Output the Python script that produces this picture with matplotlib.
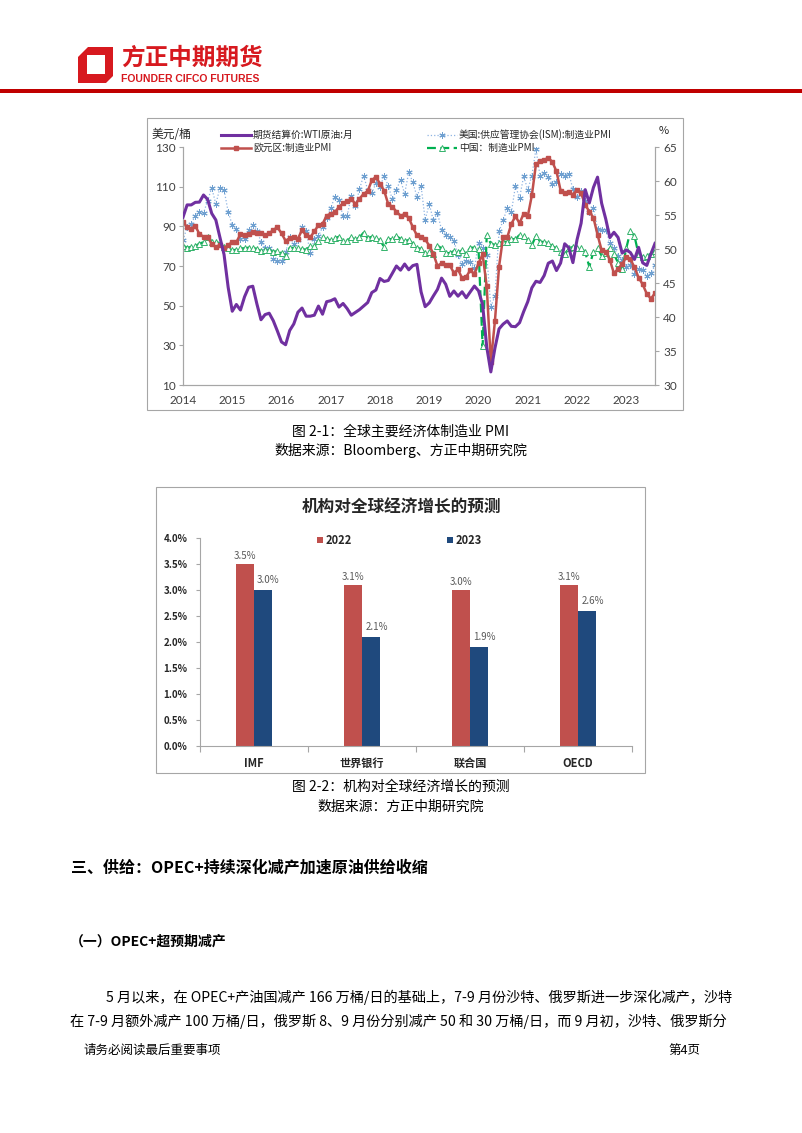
import numpy as np
import matplotlib
matplotlib.use("Agg")
import matplotlib.pyplot as plt
from matplotlib.patches import Rectangle, Polygon
from matplotlib.lines import Line2D

plt.rcParams["font.family"] = ["Noto Sans CJK SC", "DejaVu Sans"]

# ---- figure 2-1: monthly, 2014-01 .. 2023-08 ----
wti = [94.6, 100.8, 100.8, 102.1, 102.2, 105.8, 103.6, 96.5, 93.2, 84.4, 75.8, 59.3,
       47.2, 50.6, 47.8, 54.5, 59.3, 59.8, 50.9, 42.9, 45.5, 46.2, 42.4, 37.2,
       31.7, 30.3, 37.5, 40.8, 46.7, 48.8, 44.7, 44.7, 45.2, 49.8, 45.7, 52.0,
       52.5, 53.5, 49.3, 51.1, 48.5, 45.2, 46.6, 48.0, 49.8, 51.6, 56.6, 57.9,
       63.7, 62.2, 62.7, 66.3, 70.0, 67.9, 71.0, 68.1, 70.2, 70.8, 57.0, 49.5,
       51.4, 54.9, 58.2, 63.9, 60.8, 54.7, 57.4, 54.8, 57.0, 54.0, 57.0, 59.9,
       57.5, 50.5, 29.2, 16.6, 28.6, 38.3, 40.7, 42.3, 39.6, 39.4, 41.4, 47.0,
       52.0, 59.0, 62.3, 61.7, 65.2, 71.4, 72.5, 67.7, 71.5, 81.2, 79.2, 71.7,
       83.2, 91.6, 108.5, 101.8, 109.6, 114.8, 101.6, 93.7, 84.3, 87.0, 84.4, 76.5,
       78.1, 76.8, 73.3, 79.4, 71.6, 70.3, 76.1, 81.4]
ism = [51.3, 53.2, 53.7, 54.9, 55.4, 55.3, 57.1, 59.0, 56.6, 59.0, 58.7, 55.5,
       53.5, 52.9, 51.5, 51.5, 52.8, 53.5, 52.7, 51.1, 50.2, 50.1, 48.6, 48.2,
       48.2, 49.5, 51.8, 50.8, 51.3, 53.2, 52.6, 49.4, 51.5, 51.9, 53.2, 54.5,
       56.0, 57.7, 57.2, 54.8, 54.9, 57.8, 56.3, 58.8, 60.8, 58.7, 58.2, 59.7,
       59.1, 60.8, 59.3, 57.3, 58.7, 60.2, 58.1, 61.3, 59.8, 57.7, 59.3, 54.3,
       56.6, 54.2, 55.3, 52.8, 52.1, 51.7, 51.2, 49.1, 47.8, 48.3, 48.1, 47.2,
       50.9, 50.1, 49.1, 41.5, 43.1, 52.6, 54.2, 56.0, 55.4, 59.3, 57.5, 60.7,
       58.7, 60.8, 64.7, 60.7, 61.2, 60.6, 59.5, 59.9, 61.1, 60.8, 61.1, 58.8,
       57.6, 58.6, 57.1, 55.4, 56.1, 53.0, 52.8, 52.8, 50.9, 50.2, 49.0, 48.4,
       47.4, 47.7, 46.3, 47.1, 46.9, 46.0, 46.4, 47.6]
euro = [54.0, 53.2, 53.0, 53.4, 52.2, 51.8, 51.8, 50.7, 50.3, 50.6, 50.1, 50.6,
        51.0, 51.0, 52.2, 52.0, 52.2, 52.5, 52.4, 52.3, 52.0, 52.3, 52.8, 53.2,
        52.3, 51.2, 51.6, 51.7, 51.5, 52.8, 52.0, 51.7, 52.6, 53.5, 53.7, 54.9,
        55.2, 55.4, 56.2, 56.7, 57.0, 57.4, 56.6, 57.4, 58.1, 58.5, 60.1, 60.6,
        59.6, 58.6, 56.6, 56.2, 55.5, 54.9, 55.1, 54.6, 53.2, 52.0, 51.8, 51.4,
        50.5, 49.3, 47.5, 47.9, 47.7, 47.6, 46.5, 47.0, 45.7, 45.9, 46.9, 46.3,
        47.9, 49.2, 44.5, 33.4, 39.4, 47.4, 51.8, 51.7, 53.7, 54.8, 53.8, 55.2,
        54.8, 57.9, 62.5, 62.9, 63.1, 63.4, 62.8, 61.4, 58.6, 58.3, 58.4, 58.0,
        58.7, 58.2, 56.5, 55.5, 54.6, 52.1, 49.8, 49.6, 48.4, 46.4, 47.1, 47.8,
        48.8, 48.5, 47.3, 45.8, 44.8, 43.4, 42.7, 43.5]
china = [50.5, 50.2, 50.3, 50.4, 50.8, 51.0, 51.7, 51.1, 51.1, 50.8, 50.3, 50.1,
         49.8, 49.9, 50.1, 50.1, 50.2, 50.2, 50.0, 49.7, 49.8, 49.8, 49.6, 49.7,
         49.4, 49.0, 50.2, 50.1, 50.1, 50.0, 49.9, 50.4, 50.4, 51.2, 51.7, 51.4,
         51.3, 51.6, 51.8, 51.2, 51.2, 51.7, 51.4, 51.7, 52.4, 51.6, 51.8, 51.6,
         51.3, 50.3, 51.5, 51.4, 51.9, 51.5, 51.2, 51.3, 50.8, 50.2, 50.0, 49.4,
         49.5, 49.2, 50.5, 50.1, 49.4, 49.4, 49.7, 49.5, 49.8, 49.3, 50.2, 50.2,
         50.0, 35.7, 52.0, 50.8, 50.6, 50.9, 51.1, 51.0, 51.5, 51.4, 52.1, 51.9,
         51.3, 50.6, 51.9, 51.1, 51.0, 50.9, 50.4, 50.1, 49.6, 49.2, 50.1, 50.3,
         50.1, 50.2, 49.5, 47.4, 49.6, 50.2, 49.0, 49.4, 50.1, 49.2, 48.0, 47.0,
         50.1, 52.6, 51.9, 49.2, 48.8, 49.0, 49.3, 49.7]
years = list(range(2014, 2024))

# ---- figure 2-2 ----
orgs = ["IMF", "世界银行", "联合国", "OECD"]
g2022 = [3.5, 3.1, 3.0, 3.1]
g2023 = [3.0, 2.1, 1.9, 2.6]

W, H = 802, 1133
RED = "#C00000"
GRID = "#A6A6A6"


def fx(x):
    return x / W


def fy(y):
    return 1 - y / H


fig = plt.figure(figsize=(W / 100, H / 100), dpi=100)


def ptext(x, y, s, **kw):
    fig.text(fx(x), fy(y), s, **kw)


def box(x0, y0, x1, y1, **kw):
    fig.add_artist(Rectangle((fx(x0), fy(y1)), (x1 - x0) / W, (y1 - y0) / H,
                             transform=fig.transFigure, **kw))


# header
outer = [(88, 47), (113, 47), (113, 76), (106, 83), (78, 83), (78, 57)]
inner = [(87, 55), (105, 55), (105, 74), (87, 74)]
fig.add_artist(Polygon([(fx(a), fy(b)) for a, b in outer], closed=True,
                       transform=fig.transFigure, fc="#D7191F", ec="none"))
fig.add_artist(Polygon([(fx(a), fy(b)) for a, b in inner], closed=True,
                       transform=fig.transFigure, fc="white", ec="none"))
ptext(121, 58, "方正中期期货", fontsize=17, fontweight="bold", color="#D7191F",
      va="center", ha="left")
ptext(121, 79, "FOUNDER CIFCO FUTURES", fontsize=7.5, fontweight="bold",
      color="#D7191F", va="center", ha="left", family=["Liberation Sans"])
box(0, 89, 802, 93, fc=RED, ec="none")

# ---- chart 1 ----
box(147, 118, 683, 410, fill=False, ec=GRID, lw=0.8)
x = 2014 + np.arange(len(wti)) / 12
ax = fig.add_axes([fx(183), fy(385), (655 - 183) / W, (385 - 147) / H])
axr = ax.twinx()
ax.set_zorder(axr.get_zorder() + 1)
ax.patch.set_visible(False)

axr.plot(x, china, color="#00B050", lw=1.6, ls=(0, (4, 2)), marker="^", ms=4,
         mfc="white", mec="#33B36B", mew=0.7, zorder=2)
axr.plot(x, euro, color="#C0504D", lw=1.8, marker="s", ms=3, mec="#C0504D", zorder=3)
axr.plot(x, ism, color="#8EB4E3", lw=0.9, ls=":", marker=(6, 2, 0), ms=4.5,
         mec="#6FA0D0", mew=0.7, zorder=1)
ax.plot(x, wti, color="#7030A0", lw=2.2, zorder=5)

ax.set_xlim(x[0], x[-1])
ax.set_ylim(10, 130)
ax.set_yticks(range(10, 131, 20))
axr.set_ylim(30, 65)
axr.set_yticks(range(30, 66, 5))
ax.set_xticks(years)
ax.set_xticklabels([str(y) for y in years])
for a in (ax, axr):
    for s in a.spines.values():
        s.set_color(GRID)
        s.set_linewidth(0.8)
    a.spines["top"].set_visible(False)
ax.tick_params(axis="y", length=3, width=0.8, color=GRID, pad=2, labelsize=8.5,
               labelcolor="#404040")
axr.tick_params(axis="y", length=3, width=0.8, color=GRID, pad=3, labelsize=8.5,
                labelcolor="#404040")
ax.tick_params(axis="x", length=0, pad=7, labelsize=8.5, labelcolor="#404040")
for lab in ax.get_xticklabels() + ax.get_yticklabels() + axr.get_yticklabels():
    lab.set_family(["Lato", "DejaVu Sans"])

ptext(171, 135, "美元/桶", fontsize=8.5, va="center", ha="center", color="#262626")
ptext(664, 131, "%", fontsize=8, va="center", ha="center", color="#262626")

legend_items = [
    (221, 135, "期货结算价:WTI原油:月", dict(color="#7030A0", lw=2.2), None),
    (427, 135, "美国:供应管理协会(ISM):制造业PMI",
     dict(color="#8EB4E3", lw=0.9, ls=":"), dict(marker=(6, 2, 0), ms=4.5, mec="#6FA0D0", mew=0.7)),
    (221, 148, "欧元区:制造业PMI", dict(color="#C0504D", lw=1.8),
     dict(marker="s", ms=3, mfc="#C0504D", mec="#C0504D")),
    (427, 148, "中国：制造业PMI", dict(color="#00B050", lw=1.6, ls=(0, (4, 2))),
     dict(marker="^", ms=4, mfc="white", mec="#33B36B", mew=0.7)),
]
for lx, ly, lab, lstyle, mstyle in legend_items:
    fig.add_artist(Line2D([fx(lx), fx(lx + 30)], [fy(ly), fy(ly)],
                          transform=fig.transFigure, **lstyle))
    if mstyle:
        fig.add_artist(Line2D([fx(lx + 15)], [fy(ly)], transform=fig.transFigure,
                              ls="none", **mstyle))
    ptext(lx + 32, ly, lab, fontsize=7, va="center", ha="left", color="#262626")

ptext(401, 432, "图 2-1：全球主要经济体制造业 PMI", fontsize=10, ha="center", va="center")
ptext(401, 451, "数据来源：Bloomberg、方正中期研究院", fontsize=10, ha="center", va="center")

# ---- chart 2 ----
box(156, 487, 645, 773, fill=False, ec=GRID, lw=0.8)
ptext(401, 508, "机构对全球经济增长的预测", fontsize=12, fontweight="bold",
      ha="center", va="center", color="#262626")
bx = fig.add_axes([fx(200), fy(746), (632 - 200) / W, (746 - 538) / H])
pos = np.arange(len(orgs))
bw = 0.167
bx.bar(pos - bw / 2, g2022, bw, color="#C0504D")
bx.bar(pos + bw / 2, g2023, bw, color="#1F497D")
for p, v in zip(pos, g2022):
    bx.text(p - bw / 2, v + 0.15, f"{v:.1f}%", ha="center", va="center",
            fontsize=7, color="#595959")
for p, v in zip(pos, g2023):
    bx.text(p + bw / 2 + 0.05, v + 0.19, f"{v:.1f}%", ha="center", va="center",
            fontsize=7, color="#595959")
bx.set_xlim(-0.5, len(orgs) - 0.5)
bx.set_ylim(0, 4.0)
bx.set_yticks(np.arange(0, 4.01, 0.5))
bx.set_yticklabels([f"{t:.1f}%" for t in np.arange(0, 4.01, 0.5)])
bx.set_xticks(pos)
bx.set_xticklabels(orgs)
bx.set_xticks(np.arange(-0.5, len(orgs), 1), minor=True)
bx.tick_params(axis="x", which="major", length=0, pad=8, labelsize=8)
bx.tick_params(axis="x", which="minor", length=4, width=0.8, color=GRID)
bx.tick_params(axis="y", length=3, width=0.8, color=GRID, pad=6, labelsize=7)
for lab in bx.get_xticklabels() + bx.get_yticklabels():
    lab.set_fontweight("bold")
    lab.set_color("#262626")
for s in ("top", "right"):
    bx.spines[s].set_visible(False)
for s in ("left", "bottom"):
    bx.spines[s].set_color(GRID)
    bx.spines[s].set_linewidth(0.8)

for sx, lab, col in [(320, "2022", "#C0504D"), (450, "2023", "#1F497D")]:
    fig.add_artist(Rectangle((fx(sx - 3), fy(543)), 6 / W, 6 / H,
                             transform=fig.transFigure, fc=col, ec="none"))
    ptext(sx + 6, 540, lab, fontsize=8, fontweight="bold", va="center", ha="left",
          color="#262626")

ptext(401, 787, "图 2-2：机构对全球经济增长的预测", fontsize=10, ha="center", va="center")
ptext(401, 807, "数据来源：方正中期研究院", fontsize=10, ha="center", va="center")

# ---- body text ----
ptext(71, 868, "三、供给：OPEC+持续深化减产加速原油供给收缩", fontsize=11.5,
      fontweight="bold", ha="left", va="center")
ptext(70, 942, "（一）OPEC+超预期减产", fontsize=10, fontweight="bold",
      ha="left", va="center")
ptext(106, 997, "5 月以来，在 OPEC+产油国减产 166 万桶/日的基础上，7-9 月份沙特、俄罗斯进一步深化减产，沙特",
      fontsize=10.2, ha="left", va="center")
ptext(70, 1021, "在 7-9 月额外减产 100 万桶/日，俄罗斯 8、9 月份分别减产 50 和 30 万桶/日，而 9 月初，沙特、俄罗斯分",
      fontsize=10.2, ha="left", va="center")
ptext(84, 1050, "请务必阅读最后重要事项", fontsize=9, ha="left", va="center")
ptext(700, 1050, "第4页", fontsize=9, ha="right", va="center")

fig.savefig("out.png", dpi=100)
